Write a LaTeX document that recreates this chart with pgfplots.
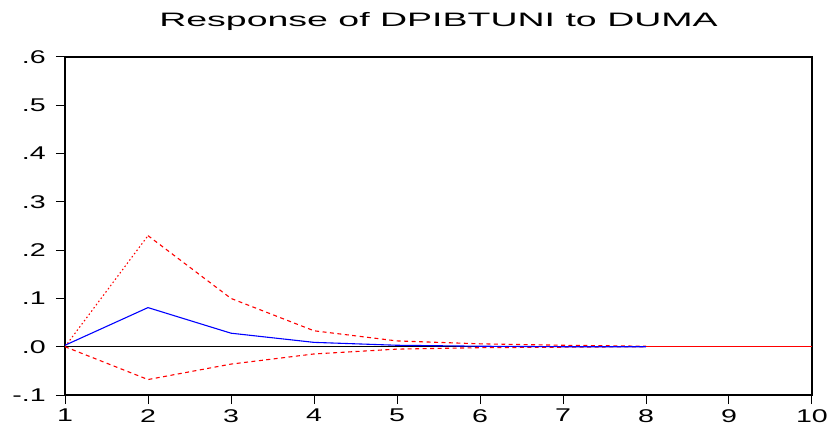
\documentclass[border=0pt]{standalone}
\usepackage{pgfplots}
\pgfplotsset{compat=1.18}
\usepackage{fontspec}
\setmainfont{Liberation Sans}
\newfontfamily\tickfont{Liberation Sans}[FakeStretch=1.55]
\newfontfamily\titlefont{Liberation Sans}[FakeStretch=1.93]
\definecolor{irfblue}{RGB}{0,0,255}
\definecolor{bandred}{RGB}{255,0,0}
\begin{document}
\begin{tikzpicture}
\begin{axis}[
  name=ax,
  scale only axis,
  width=747bp, height=338bp,
  xmin=1, xmax=10, ymin=-0.1, ymax=0.6,
  xtick={1,...,10},
  ytick={-0.1,0,0.1,0.2,0.3,0.4,0.5,0.6},
  yticklabels={-.1,.0,.1,.2,.3,.4,.5,.6},
  /pgf/number format/assume math mode=true,
  tick label style={font=\tickfont\fontsize{18.5}{18.5}\selectfont, inner sep=0pt},
  xticklabel style={anchor=north, yshift=-5bp},
  yticklabel style={anchor=east, xshift=-10bp},
  tick align=outside,
  major tick length=9bp,
  xtick pos=bottom, ytick pos=left,
  axis line style={line width=1.2pt},
  every tick/.style={black, line width=1pt},
  title={Response of DPIBTUNI to DUMA},
  title style={font=\titlefont\fontsize{19.5}{19.5}\selectfont, at={(0.5,1)}, anchor=base, yshift=25bp, inner sep=0pt},
]
% zero reference line
\addplot[black, line width=0.7pt, forget plot] coordinates {(1,0) (10,0)};
% upper band
\addplot[bandred, line width=1.1pt, dash pattern=on 1.5pt off 2.5pt] coordinates {
  (1,0.000) (2,0.230)};
\addplot[bandred, line width=1.1pt, dash pattern=on 4pt off 3.5pt] coordinates {
  (2,0.230) (3,0.100) (4,0.033) (5,0.012) (6,0.006) (7,0.003) (8,0.001)};
% lower band
\addplot[bandred, line width=1.1pt, dash pattern=on 4pt off 3.5pt] coordinates {
  (1,0.000) (2,-0.068) (3,-0.036) (4,-0.015) (5,-0.005) (6,-0.002) (7,-0.001) (8,0.000)};
% impulse response
\addplot[irfblue, line width=1.1pt] coordinates {
  (1,0.003) (2,0.081) (3,0.028) (4,0.009) (5,0.003) (6,0.001) (7,0.000) (8,0.000)};
% bands collapse onto zero
\addplot[bandred, line width=1.1pt] coordinates {(8,0) (9,0) (10,0)};
\end{axis}
\path (ax.south west) ++(-65bp,-30bp) rectangle ++(830bp,425bp);
\end{tikzpicture}
\end{document}
